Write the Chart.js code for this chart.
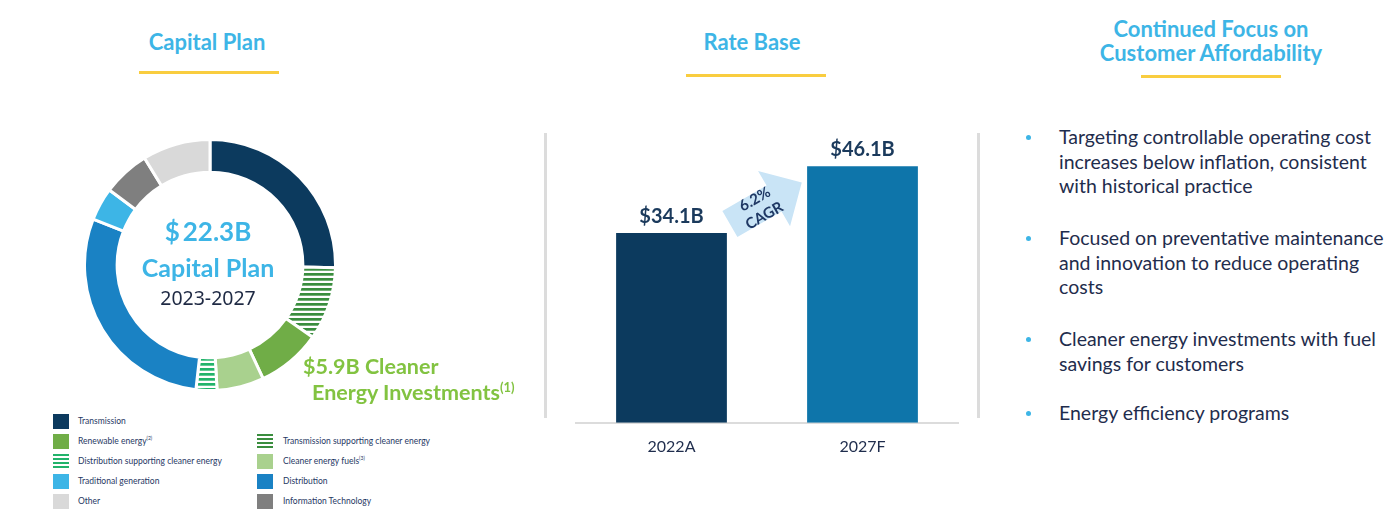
<!DOCTYPE html>
<html lang="en">
<head>
  <meta charset="UTF-8">
  <title>Capital Plan and Rate Base</title>
  <script src="https://cdn.jsdelivr.net/npm/chart.js@4.4.1/dist/chart.umd.min.js"></script>
  <style>
    html, body { margin: 0; padding: 0; background: #fff; }
    body { width: 1392px; height: 522px; position: relative; overflow: hidden; font-family: Lato, "Open Sans", sans-serif; }
    .abs { position: absolute; }
    .title { color: #3DB5E6; font-weight: 700; font-size: 22px; line-height: 24px; text-align: center; }
    .rule { background: #F9CD3F; height: 3px; width: 140px; }
    .sep { background: #DCDCDC; width: 3px; }
    .bullet { left: 1059px; color: #1F2D4D; font-size: 19.5px; line-height: 24.5px; white-space: nowrap; }
    .dot { width: 5px; height: 5px; border-radius: 50%; background: #3DB5E6; left: 1026px; }
    .leg { font-size: 8.5px; color: #1F3864; line-height: 15px; white-space: nowrap; }
    .sw { width: 16px; height: 15px; }
    sup { font-size: 60%; line-height: 0; }
  </style>
</head>
<body>

<!-- headers -->
<div class="abs title" style="left:107px; top:30px; width:200px;">Capital Plan</div>
<div class="abs rule" style="left:139px; top:71px;"></div>
<div class="abs title" style="left:652px; top:30px; width:200px;">Rate Base</div>
<div class="abs rule" style="left:686px; top:74px;"></div>
<div class="abs title" style="left:1061px; top:17px; width:300px;">Continued Focus on<br>Customer Affordability</div>
<div class="abs rule" style="left:1141px; top:75px;"></div>

<!-- capital plan donut -->
<canvas id="donutChart" class="abs" width="254" height="254" style="left:83px; top:138px;"></canvas>
<div class="abs" style="left:108px; top:216px; width:200px; text-align:center; color:#3DB5E6; font-weight:700; font-size:26px; line-height:30px;">$<span style="margin-left:3px">22.3B</span></div>
<div class="abs" style="left:108px; top:252px; width:200px; text-align:center; color:#3DB5E6; font-weight:700; font-size:25px; line-height:30px;">Capital Plan</div>
<div class="abs" style="left:108px; top:286px; width:200px; text-align:center; color:#1F2A44; font-family:'Noto Sans', sans-serif; font-size:19.5px; line-height:24px;">2023-2027</div>
<div class="abs" style="left:303px; top:353px; color:#82C341; font-weight:700; font-size:21.5px; line-height:26px; white-space:nowrap;">$5.9B Cleaner<br><span style="margin-left:9px">Energy Investments<sup>(1)</sup></span></div>

<div id="legend"></div>

<!-- rate base -->
<div class="abs sep" style="left:544px; top:133px; height:285px;"></div>
<div class="abs sep" style="left:977px; top:133px; height:285px;"></div>
<canvas id="barChart" class="abs" width="420" height="394" style="left:560px; top:77px;"></canvas>

<!-- affordability bullets -->
<div class="abs dot" style="top:135px;"></div>
<div class="abs bullet" style="top:125px;">Targeting controllable operating cost<br>increases below inflation, consistent<br>with historical practice</div>
<div class="abs dot" style="top:236px;"></div>
<div class="abs bullet" style="top:226px;">Focused on preventative maintenance<br>and innovation to reduce operating<br>costs</div>
<div class="abs dot" style="top:337px;"></div>
<div class="abs bullet" style="top:327px;">Cleaner energy investments with fuel<br>savings for customers</div>
<div class="abs dot" style="top:411px;"></div>
<div class="abs bullet" style="top:401px;">Energy efficiency programs</div>

<script>
  const segLabels = [
    'Transmission',
    'Transmission supporting cleaner energy',
    'Renewable energy',
    'Cleaner energy fuels',
    'Distribution supporting cleaner energy',
    'Distribution',
    'Traditional generation',
    'Information Technology',
    'Other'
  ];
  const segValues = [5.65, 2.1, 1.85, 1.35, 0.6, 6.5, 0.95, 1.35, 1.95];
  const segNotes = ['', '', '(2)', '(3)', '', '', '', '', ''];

  // rate base, $B
  const rateYears = ['2022A', '2027F'];
  const rateValues = [34.1, 46.1];
  const cagrText = ['6.2%', 'CAGR'];

  // legend layout: [left column, right column] index per row
  const legendRows = [[0, null], [2, 1], [4, 3], [6, 5], [8, 7]];

  const segColors = ['#0C3A5E', 'stripe:#3A8D3E', '#70AD47', '#A9D18E', 'stripe:#22B36B',
                     '#1A82C4', '#3DB5E6', '#7F7F7F', '#D9D9D9'];

  function stripePattern(ctx, color) {
    const c = document.createElement('canvas');
    c.width = 8; c.height = 5;
    const p = c.getContext('2d');
    p.fillStyle = '#fff';
    p.fillRect(0, 0, 8, 5);
    p.fillStyle = color;
    p.fillRect(0, 0, 8, 2.7);
    return ctx.createPattern(c, 'repeat');
  }

  function fillFor(ctx, col) {
    return col.startsWith('stripe:') ? stripePattern(ctx, col.slice(7)) : col;
  }

  function cssFor(col) {
    if (!col.startsWith('stripe:')) return col;
    const c = col.slice(7);
    return 'repeating-linear-gradient(to bottom, ' + c + ' 0px, ' + c + ' 2px, #fff 2px, #fff 4px)';
  }

  function buildLegend() {
    const holder = document.getElementById('legend');
    const rowTops = [414, 434, 454, 474, 494];
    const cols = [{ sw: 53, tx: 78 }, { sw: 257, tx: 283 }];
    legendRows.forEach((row, r) => {
      row.forEach((idx, c) => {
        if (idx === null) return;
        const sw = document.createElement('div');
        sw.className = 'abs sw';
        sw.style.left = cols[c].sw + 'px';
        sw.style.top = rowTops[r] + 'px';
        sw.style.background = cssFor(segColors[idx]);
        holder.appendChild(sw);
        const tx = document.createElement('div');
        tx.className = 'abs leg';
        tx.style.left = cols[c].tx + 'px';
        tx.style.top = rowTops[r] + 'px';
        tx.innerHTML = segLabels[idx] + (segNotes[idx] ? '<sup>' + segNotes[idx] + '</sup>' : '');
        holder.appendChild(tx);
      });
    });
  }

  function createDonut(ctx) {
    new Chart(ctx, {
      type: 'doughnut',
      data: {
        labels: segLabels,
        datasets: [{
          data: segValues,
          backgroundColor: segColors.map(c => fillFor(ctx, c)),
          borderColor: '#ffffff',
          borderWidth: 3
        }]
      },
      options: {
        responsive: false,
        animation: false,
        cutout: '74%',
        plugins: { legend: { display: false }, tooltip: { enabled: false } }
      }
    });
  }

  const barLabels = {
    id: 'barLabels',
    afterDatasetsDraw(chart) {
      const ctx = chart.ctx;
      const bars = chart.getDatasetMeta(0).data;
      ctx.save();
      ctx.fillStyle = '#1B3A5C';
      ctx.font = 'bold 20px Lato';
      ctx.textAlign = 'center';
      ctx.textBaseline = 'middle';
      bars.forEach((b, i) => {
        ctx.fillText('$' + rateValues[i].toFixed(1) + 'B', b.x, b.y - 17);
      });

      // growth arrow between the two bars
      const b0 = bars[0];
      const x0 = b0.x + b0.width / 2 + 3;
      const y0 = b0.y - 9;
      ctx.translate(x0, y0);
      ctx.rotate(-Math.PI / 6);
      ctx.fillStyle = '#C9E4F6';
      ctx.beginPath();
      ctx.moveTo(0, -15);
      ctx.lineTo(51, -15);
      ctx.lineTo(51, -32);
      ctx.lineTo(83, 0);
      ctx.lineTo(51, 32);
      ctx.lineTo(51, 15);
      ctx.lineTo(0, 15);
      ctx.closePath();
      ctx.fill();
      ctx.fillStyle = '#1F3864';
      ctx.font = 'bold 15px Lato';
      ctx.fillText(cagrText[0], 34, -9);
      ctx.fillText(cagrText[1], 34, 10);
      ctx.restore();
    }
  };

  function createBarChart(ctx) {
    new Chart(ctx, {
      type: 'bar',
      data: {
        labels: rateYears,
        datasets: [{
          data: rateValues,
          backgroundColor: ['#0C3A5E', '#0E75AA'],
          barPercentage: 0.58,
          categoryPercentage: 1
        }]
      },
      options: {
        responsive: false,
        animation: false,
        layout: { padding: { left: 16, right: 22, top: 12, bottom: 9 } },
        scales: {
          x: {
            grid: { display: false },
            border: { display: true, color: '#DCDCDC', width: 2 },
            ticks: { color: '#1F2D4D', font: { family: 'Lato', size: 16 }, padding: 6 }
          },
          y: { display: false, min: 0, max: 60 }
        },
        plugins: { legend: { display: false }, tooltip: { enabled: false } }
      },
      plugins: [barLabels]
    });
  }

  buildLegend();
  createDonut(document.getElementById('donutChart').getContext('2d'));
  createBarChart(document.getElementById('barChart').getContext('2d'));
</script>
</body>
</html>
